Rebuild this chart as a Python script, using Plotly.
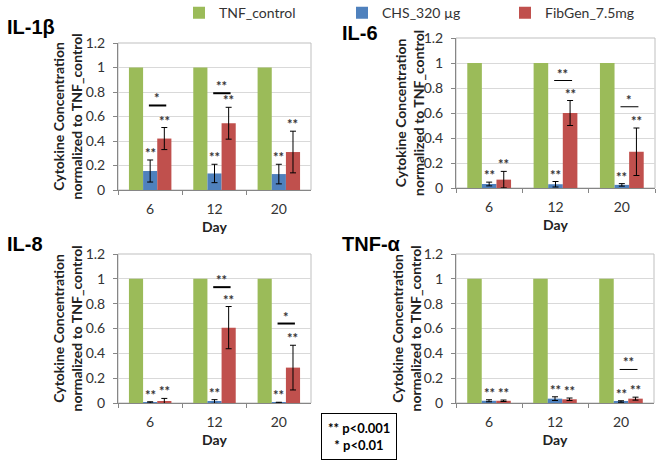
import plotly.graph_objects as go

# ---------------- data ----------------
days = ["6", "12", "20"]
series_names = ["TNF_control", "CHS_320 µg", "FibGen_7.5mg"]
panel_titles = ["IL-1β", "IL-6", "IL-8", "TNF-α"]
y_title = "Cytokine Concentration<br>normalized to TNF_control"
x_title = "Day"

tnf_control = [1, 1, 1]

il1b_chs = [0.155, 0.135, 0.13]
il1b_chs_err = [0.09, 0.075, 0.08]
il1b_fib = [0.42, 0.545, 0.31]
il1b_fib_err = [0.09, 0.13, 0.17]

il6_chs = [0.032, 0.03, 0.025]
il6_chs_err = [0.015, 0.022, 0.01]
il6_fib = [0.067, 0.60, 0.29]
il6_fib_err = [0.066, 0.10, 0.19]

il8_chs = [0.005, 0.012, 0.003]
il8_chs_err = [0.005, 0.015, 0.003]
il8_fib = [0.012, 0.607, 0.285]
il8_fib_err = [0.025, 0.17, 0.18]

tnfa_chs = [0.018, 0.035, 0.012]
tnfa_chs_err = [0.008, 0.015, 0.006]
tnfa_fib = [0.018, 0.03, 0.035]
tnfa_fib_err = [0.006, 0.01, 0.012]

# significance marks vs TNF_control for every treated bar ("**")
chs_sig = ["**", "**", "**"]
fib_sig = ["**", "**", "**"]

# CHS vs FibGen brackets: (day index, label, height)
il1b_brackets = [(0, "*", 0.69), (1, "**", 0.79)]
il6_brackets = [(1, "**", 0.86), (2, "*", 0.65)]
il8_brackets = [(1, "**", 0.933), (2, "*", 0.64)]
tnfa_brackets = [(2, "**", 0.27)]

p_legend = ["** p<0.001", "\u00a0\u00a0* p<0.01"]

# ---------------- style ----------------
W, H = 662, 461
GREEN, BLUE, RED = "#9BBB59", "#4F81BD", "#C0504D"
colors = [GREEN, BLUE, RED]
FONT = "Lato, 'Open Sans', sans-serif"
BARGAP = 0.34
BW = (1 - BARGAP) / 3

def px_x(a, b):
    return [a / W, b / W]

def px_y(top, bottom):
    return [1 - bottom / H, 1 - top / H]

panels = [
    dict(title=panel_titles[0], chs=il1b_chs, chs_err=il1b_chs_err, fib=il1b_fib, fib_err=il1b_fib_err,
         br=il1b_brackets, brw=2, xd=px_x(118, 311), yd=px_y(43, 190), tpos=(5, 27), ytx=59),
    dict(title=panel_titles[1], chs=il6_chs, chs_err=il6_chs_err, fib=il6_fib, fib_err=il6_fib_err,
         br=il6_brackets, brw=1, xd=px_x(456, 655), yd=px_y(38, 188), tpos=(340, 33), ytx=402),
    dict(title=panel_titles[2], chs=il8_chs, chs_err=il8_chs_err, fib=il8_fib, fib_err=il8_fib_err,
         br=il8_brackets, brw=2, xd=px_x(118, 311), yd=px_y(254, 403), tpos=(5, 244), ytx=59),
    dict(title=panel_titles[3], chs=tnfa_chs, chs_err=tnfa_chs_err, fib=tnfa_fib, fib_err=tnfa_fib_err,
         br=tnfa_brackets, brw=1, xd=px_x(456, 654), yd=px_y(254, 403), tpos=(340, 244), ytx=398),
]

fig = go.Figure()
annotations = []
shapes = []
layout_axes = {}

for k, p in enumerate(panels):
    n = k + 1
    xa = "x" if n == 1 else f"x{n}"
    ya = "y" if n == 1 else f"y{n}"
    vals = [tnf_control, p["chs"], p["fib"]]
    errs = [None, p["chs_err"], p["fib_err"]]
    for s in range(3):
        fig.add_trace(go.Bar(
            x=days, y=vals[s], name=series_names[s], marker_color=colors[s],
            marker_line_width=0, xaxis=xa, yaxis=ya, showlegend=(k == 0),
            legendgroup=series_names[s],
            error_y=(dict(type="data", array=errs[s], color="black", thickness=1, width=3)
                     if errs[s] is not None else dict(visible=False)),
        ))
    xkey = "xaxis" if n == 1 else f"xaxis{n}"
    ykey = "yaxis" if n == 1 else f"yaxis{n}"
    layout_axes[xkey] = dict(
        domain=p["xd"], anchor=ya, type="category", tickson="boundaries",
        ticks="outside", ticklen=4, tickcolor="#868686", showline=True, linecolor="#868686",
        mirror=False, showgrid=False, tickfont=dict(family=FONT, size=14, color="#333333"),
        ticklabelstandoff=6,
        title=dict(text=f"<b>{x_title}</b>", font=dict(family=FONT, size=14, color="#222222"), standoff=6),
    )
    layout_axes[ykey] = dict(
        domain=p["yd"], anchor=xa, range=[0, 1.2], dtick=0.2, ticks="outside", ticklen=4,
        tickcolor="#868686", showline=True, linecolor="#868686", gridcolor="#D9D9D9",
        zeroline=False, tickfont=dict(family=FONT, size=14, color="#333333"), ticklabelstandoff=5,
    )
    # y-axis title (two lines, rotated)
    annotations.append(dict(text=f"<b>{y_title}</b>", textangle=-90, xref="paper", yref="paper",
                            x=(p["ytx"] + 8) / W, y=(p["yd"][0] + p["yd"][1]) / 2,
                            xanchor="center", yanchor="middle", showarrow=False,
                            font=dict(family=FONT, size=14, color="#222222")))
    # plot area border
    shapes.append(dict(type="rect", xref=f"{xa} domain", yref=f"{ya} domain", x0=0, x1=1, y0=0, y1=1,
                       line=dict(color="#BFBFBF", width=1), layer="below"))
    # panel title
    annotations.append(dict(text=f"<b>{p['title']}</b>", xref="paper", yref="paper",
                            x=p["tpos"][0] / W, y=1 - p["tpos"][1] / H, xanchor="left", yanchor="middle",
                            showarrow=False, font=dict(family="Liberation Sans, Arial", size=20, color="black")))
    # ** above each treated bar
    for i in range(3):
        for off, v, e, lab in ((0.0, p["chs"][i], p["chs_err"][i], chs_sig[i]),
                               (BW, p["fib"][i], p["fib_err"][i], fib_sig[i])):
            annotations.append(dict(text=f"<b>{lab}</b>", x=i + off, y=v + e, xref=xa, yref=ya,
                                    xanchor="center", yanchor="bottom", showarrow=False, yshift=-3,
                                    font=dict(family=FONT, size=13, color="#333333")))
    # comparison brackets
    for (i, lab, h) in p["br"]:
        shapes.append(dict(type="line", xref=xa, yref=ya, x0=i - 0.02, x1=i + BW + 0.03, y0=h, y1=h,
                           line=dict(color="black", width=p["brw"])))
        annotations.append(dict(text=f"<b>{lab}</b>", x=i + BW / 2, y=h, xref=xa, yref=ya, xanchor="center",
                                yanchor="bottom", showarrow=False, yshift=-3,
                                font=dict(family=FONT, size=13, color="#333333")))

# p-value key box
annotations.append(dict(text="<b>" + "<br>".join(p_legend) + "</b>", xref="paper", yref="paper",
                        x=321 / W, y=1 - 413 / H, xanchor="left", yanchor="top", align="left",
                        showarrow=False, bordercolor="black", borderwidth=1, borderpad=6,
                        font=dict(family=FONT, size=13, color="black")))

fig.update_layout(
    width=W, height=H, margin=dict(l=0, r=0, t=0, b=0, autoexpand=False),
    paper_bgcolor="white", plot_bgcolor="white",
    barmode="group", bargap=BARGAP, bargroupgap=0,
    showlegend=True,
    legend=dict(orientation="h", x=179 / W, xanchor="left", y=1.006, yanchor="top",
                entrywidth=118, entrywidthmode="pixels",
                font=dict(family=FONT, size=14, color="#333333"), itemclick=False),
    annotations=annotations, shapes=shapes,
    **layout_axes,
)

fig.write_html("out.html", config={"displayModeBar": False},
               post_script="document.body.style.margin='0';document.body.style.overflow='hidden';")
